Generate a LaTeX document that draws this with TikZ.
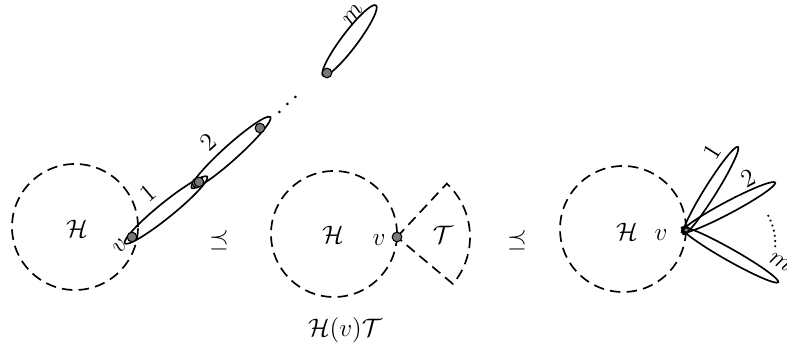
\documentclass[tikz,border=0pt]{standalone}
\usepackage{amsmath,amssymb}
\usepackage{tikz}
\usetikzlibrary{calc}
\definecolor{dotgray}{RGB}{120,120,120}
\tikzset{
  host/.style={dash pattern=on 6pt off 3.5pt, line width=0.95pt},
  petal/.style={line width=0.95pt},
  vertex/.style={
    circle, fill=dotgray, draw=black, line width=0.6pt,
    inner sep=0pt, minimum size=5.5pt
  },
  lbl/.style={font=\Large, inner sep=1pt}
}
\begin{document}
\begin{tikzpicture}[x=0.02cm, y=0.02cm]
  \useasboundingbox (0,0) rectangle (787,359);

  % Left: H with a chain of ellipses
  \draw[host] (75,132) circle (63);
  \node[lbl] (h1) at (77,130) {$\mathcal{H}$};
  \draw[petal, shift={(166,149)}, rotate=39] (0,0) ellipse (53 and 7.5);
  \draw[petal, shift={(231,206.5)}, rotate=42] (0,0) ellipse (53 and 7.5);
  \draw[petal, shift={(349.5,318.5)}, rotate=53] (0,0) ellipse (44 and 8);
  \node[vertex] (v1) at (132,122) {};
  \node[vertex] (j1) at (197,176) {};
  \node[vertex] (j2) at (199,177) {};
  \node[vertex] (e2) at (260,231) {};
  \node[vertex] (em) at (327,286) {};
  \node[lbl, rotate=50] (v1l) at (120,113) {$v$};
  \node[lbl, rotate=40] (l1) at (148,166) {$1$};
  \node[lbl, rotate=42] (l2) at (208,217) {$2$};
  \node[lbl, rotate=53] (lm) at (353,344) {$m$};
  \node[lbl, rotate=42] (dd) at (290,255) {$\cdots$};

  % Order signs
  \node[lbl] (le1) at (219,119) {$\preceq$};
  \node[lbl] (le2) at (517,119) {$\preceq$};

  % Middle: H(v)T
  \draw[host] (334,125) circle (63);
  \node[lbl] (h2) at (333,124) {$\mathcal{H}$};
  \coordinate (v2) at (397,122);
  \draw[host] (v2) -- ++(47:73) arc (47:-40:73) -- cycle;
  \node[vertex] (v2d) at (v2) {};
  \node[lbl] (v2l) at (379,119) {$v$};
  \node[lbl] (t2) at (443,124) {$\mathcal{T}$};
  \node[lbl] (cap) at (345,29) {$\mathcal{H}(v)\mathcal{T}$};

  % Right: H with petals at v
  \draw[host] (623,130) circle (63);
  \node[lbl] (h3) at (627,127) {$\mathcal{H}$};
  \node[vertex, minimum size=4pt] (v3) at (686,129) {};
  \draw[petal, shift={(686,129)}, rotate=58] (46.5,0) ellipse (51.5 and 6);
  \draw[petal, shift={(686,129)}, rotate=28] (48,0) ellipse (53 and 6);
  \draw[petal, shift={(686,129)}, rotate=-29.5] (50.5,0) ellipse (55.5 and 6);
  \node[lbl] (v3l) at (661,124) {$v$};
  \node[lbl, rotate=58] (r1) at (712,207) {$1$};
  \node[lbl, rotate=28] (r2) at (748,181) {$2$};
  \node[lbl, rotate=-30] (rm) at (780,97) {$m$};
  \draw[dotted, line width=1pt] (768,144) to[bend left=15] (775,109);
\end{tikzpicture}
\end{document}
